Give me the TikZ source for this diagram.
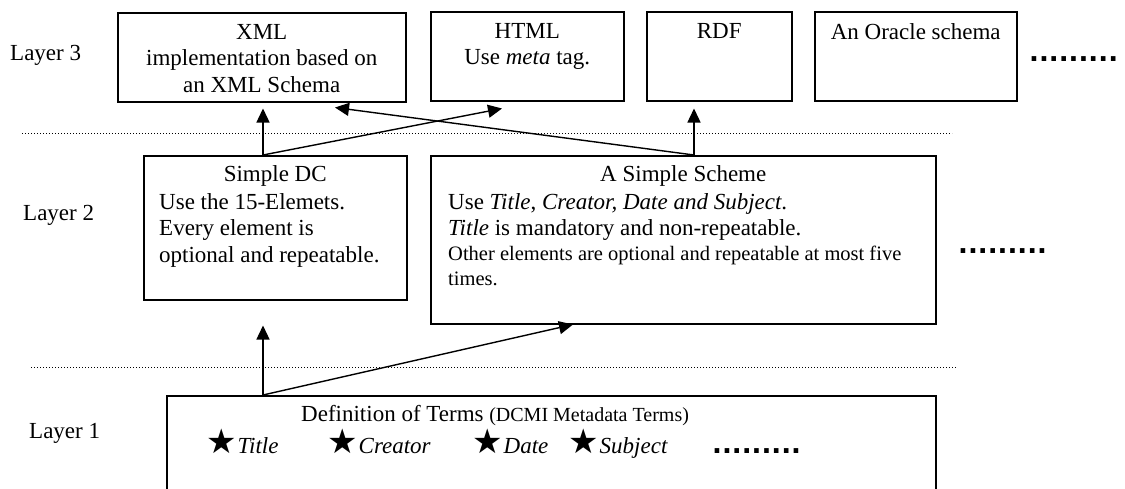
\documentclass[tikz,border=0pt]{standalone}
\usepackage{fontspec}
\setmainfont{Liberation Serif}
\newfontfamily\symfont{DejaVu Sans}
\usetikzlibrary{arrows.meta,positioning,calc}
\newcommand{\dcterm}[1]{{\symfont\fontsize{34}{34}\selectfont ★}\kern1pt\textit{#1}}

\begin{document}
\begin{tikzpicture}[x=1pt, y=-1pt,
    box/.style={draw, line width=1.5pt, anchor=north west, inner sep=0pt},
    title/.style={font=\fontsize{23}{26.5}\selectfont, inner sep=0pt, align=center},
    body/.style={font=\fontsize{23}{26.5}\selectfont, inner sep=0pt, align=left, anchor=north west},
    layer/.style={font=\fontsize{23}{26.5}\selectfont, inner sep=0pt, anchor=base west},
    more/.style={font=\symfont\bfseries\fontsize{26}{26}\selectfont, inner sep=0pt, anchor=base west},
    sep/.style={line width=0.9pt, dash pattern=on 1pt off 2pt},
    up/.style={line width=1.4pt, -{Triangle[length=14pt, width=13pt]}}]
    \useasboundingbox (0,0) rectangle (1125,488);
    \clip (0,0) rectangle (1125,488);

    % Layer 3
    \node[layer] (lay3) at (10,60) {Layer 3};
    \node[box, minimum width=288pt, minimum height=89pt] (xml) at (117,12) {};
    \node[box, minimum width=193pt, minimum height=89pt] (html) at (430,11) {};
    \node[box, minimum width=145pt, minimum height=89pt] (rdf) at (646,11) {};
    \node[box, minimum width=202pt, minimum height=89pt] (oracle) at (814,11) {};
    \node[title, below=12pt of xml.north] (xmltext) {XML\\implementation based on\\an XML Schema};
    \node[title, below=12pt of html.north] (htmltext) {HTML\\Use \textit{meta} tag.};
    \node[title, below=12pt of rdf.north] (rdftext) {RDF};
    \node[title, below=12pt of oracle.north] (oracletext) {An Oracle schema};
    \node[more] (more3) at (1029,61) {.........};

    \draw[sep] (22,133) -- (952,133);

    % Layer 2
    \node[layer] (lay2) at (23,220) {Layer 2};
    \node[box, minimum width=263pt, minimum height=144pt] (dc) at (143,155) {};
    \node[box, minimum width=505pt, minimum height=168pt] (scheme) at (430,155) {};
    \node[title, below=10pt of dc.north] (dctitle) {Simple DC};
    \node[body] (dcbody) at ($(dc.north west)+(16,38)$)
        {Use the 15-Elemets.\\Every element is\\optional and repeatable.};
    \node[title, below=10pt of scheme.north] (schemetitle) {A Simple Scheme};
    \node[body] (schemebody) at ($(scheme.north west)+(18,38)$)
        {Use \textit{Title}, \textit{Creator, Date and Subject}.\\
         \textit{Title} is mandatory and non-repeatable.\\[-2pt]
         {\fontsize{20.5}{25}\selectfont Other elements are optional and repeatable at most five}\\[-1.5pt]
         {\fontsize{20.5}{25}\selectfont times.}};
    \node[more] (more2) at (958,253) {.........};

    \draw[sep] (31,367) -- (957,367);

    % Layer 1
    \node[layer] (lay1) at (29,438) {Layer 1};
    \node[box, minimum width=769pt, minimum height=110pt] (terms) at (166,395) {};
    \node[body] (termstitle) at ($(terms.north west)+(135,10)$)
        {Definition of Terms {\fontsize{20}{24}\selectfont (DCMI Metadata Terms)}};
    \node[layer] (tTitle) at (206,453) {\dcterm{Title}};
    \node[layer] (tCreator) at (327,453) {\dcterm{Creator}};
    \node[layer] (tDate) at (472,453) {\dcterm{Date}};
    \node[layer] (tSubject) at (568,453) {\dcterm{Subject}};
    \node[more] (more1) at (712,453) {.........};

    % arrows
    \coordinate (dctop) at ($(dc.north west)+(120,0)$);
    \coordinate (schemetop) at ($(scheme.north west)+(264,0)$);
    \coordinate (termstop) at ($(terms.north west)+(97,0)$);
    \draw[up] (dctop) -- ($(xml.south west)+(146,6)$);
    \draw[up] (dctop) -- ($(html.south west)+(72,7)$);
    \draw[up] (schemetop) -- ($(xml.south west)+(218,5)$);
    \draw[up] (schemetop) -- ($(rdf.south west)+(48,7)$);
    \draw[up] (termstop) -- ($(dc.south west)+(120,25)$);
    \draw[up] (termstop) -- ($(scheme.south west)+(143,0)$);
\end{tikzpicture}
\end{document}
